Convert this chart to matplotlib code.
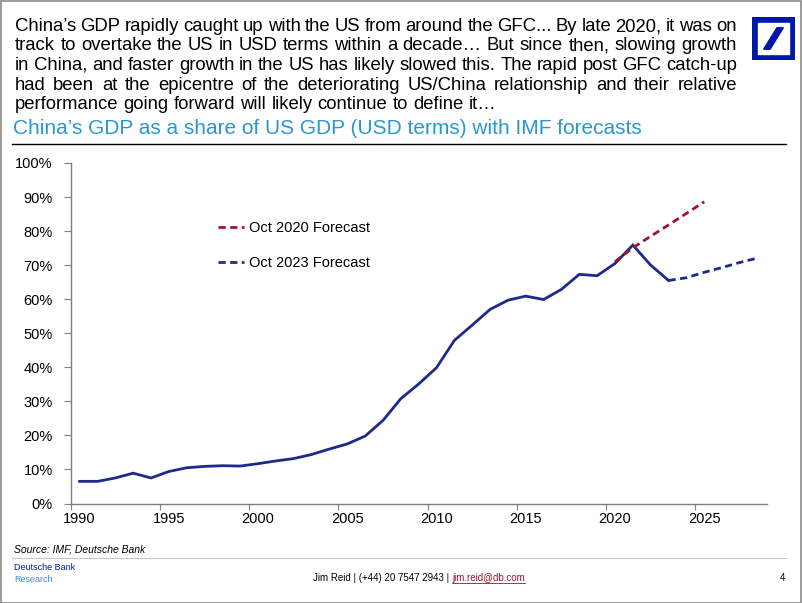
import matplotlib
matplotlib.use('Agg')
import matplotlib.pyplot as plt
from matplotlib.patches import Rectangle, Polygon
from matplotlib.lines import Line2D

# historical China GDP as % of US GDP (USD terms)
years = list(range(1990, 2024))
share = [6.5, 6.5, 7.5, 8.9, 7.5, 9.4, 10.5, 10.9, 11.1, 11.0,
         11.7, 12.5, 13.2, 14.4, 16.0, 17.5, 19.8, 24.4, 30.8, 35.1,
         39.9, 47.9, 52.4, 57.0, 59.7, 60.9, 59.9, 62.9, 67.3, 66.9,
         70.5, 75.9, 70.0, 65.5]

# IMF forecasts
f2020_years = [2020, 2021, 2022, 2023, 2024, 2025]
f2020 = [71.0, 75.1, 78.5, 81.8, 85.2, 88.6]
f2023_years = [2023, 2024, 2025, 2026, 2027, 2028]
f2023 = [65.5, 66.3, 67.9, 69.3, 70.8, 72.1]

tick_years = [1990, 1995, 2000, 2005, 2010, 2015, 2020, 2025]
y_ticks = [0, 10, 20, 30, 40, 50, 60, 70, 80, 90, 100]

header = [
    "China\u2019s GDP rapidly caught up with the US from around the GFC... By late 2020, it was on",
    "track to overtake the US in USD terms within a decade\u2026 But since then, slowing growth",
    "in China, and faster growth in the US has likely slowed this. The rapid post GFC catch-up",
    "had been at the epicentre of the deteriorating US/China relationship and their relative",
    "performance going forward will likely continue to define it\u2026",
]
subtitle = "China\u2019s GDP as a share of US GDP (USD terms) with IMF forecasts"

NAVY = '#1c2a8c'
RED = '#a3122c'
LIGHTBLUE = '#2a97d0'
DBBLUE = '#0018a8'
W, H = 802, 603
narrow = ['Liberation Sans Narrow', 'Liberation Sans', 'DejaVu Sans']
plt.rcParams['font.family'] = ['Liberation Sans', 'DejaVu Sans']


def fx(x):
    return x / W


def fy(y):
    return 1 - y / H


fig = plt.figure(figsize=(W / 100, H / 100), dpi=100)
renderer = fig.canvas.get_renderer()

# outer frame
fig.add_artist(Rectangle((0.5 / W, 0.5 / H), 1 - 1.5 / W, 1 - 1.5 / H,
                         transform=fig.transFigure, fill=False,
                         edgecolor='#8a8a8a', linewidth=1.2))


def justify(text, x0, x1, y, last=False, **kw):
    # y is the baseline, in pixels from the top
    words = text.split(' ')
    objs = [fig.text(0, fy(y), w, va='baseline', ha='left', **kw) for w in words]
    widths = [o.get_window_extent(renderer).width for o in objs]
    if last:
        space = fig.text(0, 0, 'a a', **kw)
        s1 = space.get_window_extent(renderer).width
        space.set_text('aa')
        gap = s1 - space.get_window_extent(renderer).width
        space.remove()
    else:
        gap = (x1 - x0 - sum(widths)) / (len(words) - 1)
    x = x0
    for o, w in zip(objs, widths):
        o.set_x(fx(x))
        x += w + gap


for i, line in enumerate(header):
    justify(line, 15, 737, 31 + 19.5 * i, last=(i == len(header) - 1),
            fontsize=13.3, family=narrow, color='black')

fig.text(fx(13), fy(129), subtitle, fontsize=15, family=narrow,
         color=LIGHTBLUE, va='center', ha='left')
fig.add_artist(Line2D([fx(12), fx(786)], [fy(144), fy(144)],
                      color='black', linewidth=1.0))

# logo
lax = fig.add_axes([fx(752), fy(60), 43 / W, 43 / H])
lax.set_xlim(0, 1)
lax.set_ylim(0, 1)
lax.axis('off')
lax.add_patch(Rectangle((0, 0), 1, 1, color=DBBLUE))
lax.add_patch(Rectangle((0.15, 0.15), 0.7, 0.7, color='white'))
lax.add_patch(Polygon([[0.27, 0.25], [0.42, 0.25], [0.73, 0.75], [0.58, 0.75]],
                      color=DBBLUE))

# chart
ax = fig.add_axes([fx(70.7), fy(503.5), (766.7 - 70.7) / W, (503.5 - 163) / H])
ax.plot([y + 0.5 for y in years], share, color=NAVY, linewidth=2.0,
        solid_joinstyle='miter', label='_nolegend_')
ax.plot([y + 0.5 for y in f2020_years], f2020, color=RED, linewidth=2.0,
        dashes=(2.6, 1.6), label='Oct 2020 Forecast')
ax.plot([y + 0.5 for y in f2023_years], f2023, color=NAVY, linewidth=2.0,
        dashes=(2.6, 1.6), label='Oct 2023 Forecast')

ax.set_xlim(1990, 2029)
ax.set_ylim(0, 100)
for s in ['top', 'right']:
    ax.spines[s].set_visible(False)
for s in ['left', 'bottom']:
    ax.spines[s].set_color('#7f7f7f')
    ax.spines[s].set_linewidth(1.0)

ax.set_yticks(y_ticks)
ax.set_yticklabels([f'{v}%' for v in y_ticks])
ax.tick_params(axis='y', direction='out', length=5, color='#7f7f7f',
               labelsize=10.5, pad=8)
ax.set_xticks(tick_years)
ax.set_xticklabels([])
ax.tick_params(axis='x', which='major', direction='out', length=4,
               color='#7f7f7f')
ax.set_xticks([y + 0.5 for y in tick_years], minor=True)
ax.set_xticklabels([str(y) for y in tick_years], minor=True)
ax.tick_params(axis='x', which='minor', length=0, labelsize=10.5, pad=6)

leg = ax.legend(loc='upper left', bbox_to_anchor=(fx(218), fy(221)),
                bbox_transform=fig.transFigure, frameon=False, fontsize=10.5,
                handlelength=1.75, handletextpad=0.35, labelspacing=1.45,
                borderpad=0, borderaxespad=0)

# footer
fig.text(fx(14), fy(549), 'Source: IMF, Deutsche Bank', fontsize=7.5,
         style='italic', va='center', family=narrow)
fig.add_artist(Line2D([fx(12), fx(786)], [fy(558), fy(558)],
                      color='#c8c8c8', linewidth=0.8))
fig.text(fx(14), fy(567), 'Deutsche Bank', fontsize=6.5, color=DBBLUE,
         va='center', family=narrow)
fig.text(fx(14), fy(579), 'Research', fontsize=6.5, color=LIGHTBLUE,
         va='center', family=narrow)
t1 = fig.text(fx(313), fy(578), 'Jim Reid | (+44) 20 7547 2943 | ', fontsize=7,
              va='center', family=narrow)
w1 = t1.get_window_extent(renderer).width
t2 = fig.text(fx(313 + w1), fy(578), 'jim.reid@db.com', fontsize=7,
              va='center', color=RED, family=narrow)
w2 = t2.get_window_extent(renderer).width
fig.add_artist(Line2D([fx(313 + w1), fx(313 + w1 + w2)], [fy(583), fy(583)],
                      color=RED, linewidth=0.6))
fig.text(fx(783), fy(578), '4', fontsize=7, va='center', ha='center',
         family=narrow)

fig.savefig('out.png', dpi=100)
